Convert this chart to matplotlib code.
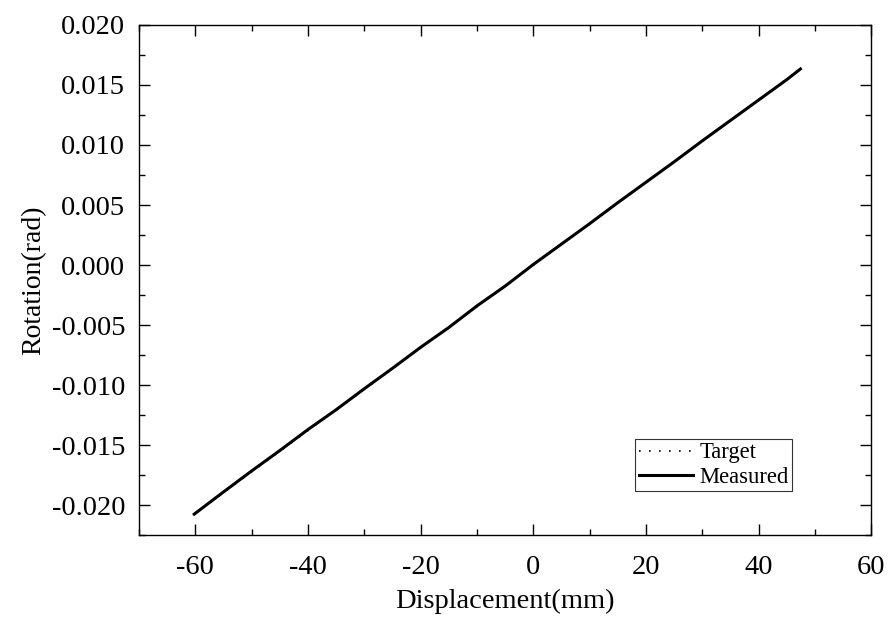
import numpy as np
import matplotlib
matplotlib.use('Agg')
import matplotlib.pyplot as plt
from matplotlib.ticker import MultipleLocator

# values
target_x = [-60.2, -50.0, -40.0, -30.0, -20.0, -10.0, 0.0, 10.0, 20.0, 30.0, 40.0, 48.3]
target_y = [-0.02075, -0.01723, -0.01378, -0.01034, -0.00689, -0.00345, 0.0,
            0.00345, 0.00689, 0.01034, 0.01378, 0.01665]

meas_x = [-60.2, -55.0, -50.0, -45.0, -40.0, -35.0, -30.0, -25.0, -20.0, -15.0, -10.0,
          -5.0, 0.0, 5.0, 10.0, 15.0, 20.0, 25.0, 30.0, 35.0, 40.0, 45.0, 47.4]
meas_y = [-0.02075, -0.01890, -0.01715, -0.01545, -0.01370, -0.01205, -0.01030,
          -0.00860, -0.00685, -0.00520, -0.00340, -0.00175, 0.00005, 0.00175,
          0.00345, 0.00520, 0.00690, 0.00860, 0.01035, 0.01205, 0.01375, 0.01545, 0.01633]

plt.rcParams['font.family'] = ['Liberation Serif', 'DejaVu Serif']
plt.rcParams['axes.unicode_minus'] = False

fig = plt.figure(figsize=(8.91, 6.23), dpi=100)
ax = fig.add_axes([0.156, 0.141, 0.822, 0.819])

ax.plot(target_x, target_y, color='black', linestyle=(0, (1, 5)), linewidth=1.2, label='Target')
ax.plot(meas_x, meas_y, color='black', linestyle='-', linewidth=2.2, label='Measured')

ax.set_xlim(-70, 60)
ax.set_ylim(-0.0225, 0.020)
ax.xaxis.set_major_locator(MultipleLocator(20))
ax.xaxis.set_minor_locator(MultipleLocator(10))
ax.yaxis.set_major_locator(MultipleLocator(0.005))
ax.yaxis.set_minor_locator(MultipleLocator(0.0025))
ax.yaxis.set_major_formatter(plt.FuncFormatter(lambda v, p: f'{v:.3f}'))

ax.tick_params(which='both', direction='in', top=True, right=True, labelsize=20.5, width=1.0)
ax.tick_params(which='major', length=8)
ax.tick_params(axis='x', which='major', pad=14)
ax.tick_params(axis='y', which='major', pad=10)
ax.tick_params(which='minor', length=4.5)
for s in ax.spines.values():
    s.set_linewidth(1.0)

ax.set_xlabel('Displacement(mm)', fontsize=20.5, labelpad=7)
ax.set_ylabel('Rotation(rad)', fontsize=20, labelpad=4)

leg = ax.legend(loc='lower right', bbox_to_anchor=(0.892, 0.086), fontsize=16.3,
                frameon=True, fancybox=False, edgecolor='black', handlelength=2.4,
                handletextpad=0.3, borderpad=0.15, labelspacing=0.15, borderaxespad=0)
leg.get_frame().set_linewidth(0.8)

fig.savefig('out.png', dpi=100)
